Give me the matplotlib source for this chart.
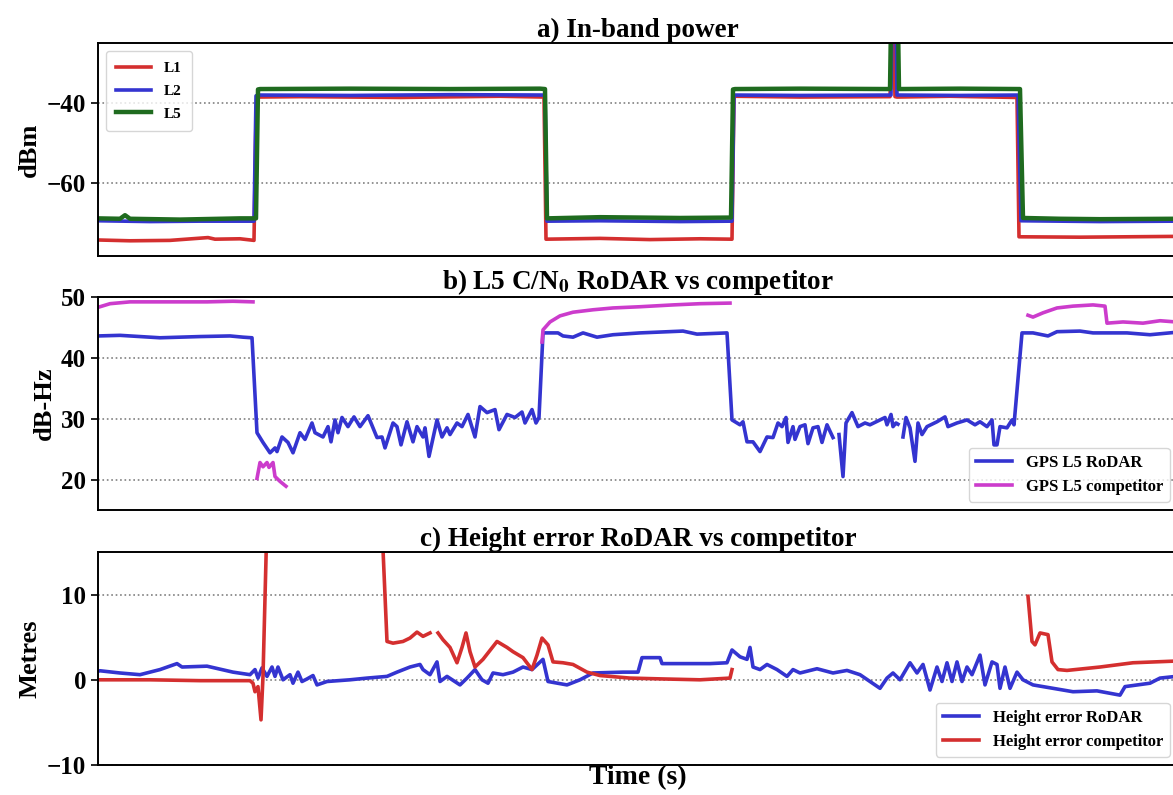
import numpy as np
import matplotlib
matplotlib.use("Agg")
import matplotlib.pyplot as plt

plt.rcParams['font.family'] = ['Liberation Serif', 'DejaVu Serif']
plt.rcParams['font.weight'] = 'bold'
plt.rcParams['mathtext.fontset'] = 'stix'

nan = np.nan

# a) in-band power (dBm)
l1_t = [98, 130, 170, 208, 215, 240, 254, 256, 258, 300, 400, 500, 544, 546, 600, 650, 700, 732,
        734, 735, 800, 890, 893, 895, 897, 950, 1017, 1019, 1080, 1176]
l1_v = [-74.2, -74.4, -74.3, -73.6, -74.0, -73.9, -74.3, -43.5, -38.5, -38.4, -38.6, -38.3, -38.5,
        -74.0, -73.8, -74.1, -73.9, -74.0, -38.5, -38.3, -38.5, -38.4, -20, -38.4, -38.5, -38.3,
        -38.6, -73.4, -73.5, -73.3]
l2_t = [98, 150, 200, 254, 256, 258, 350, 450, 545, 547, 600, 680, 732, 734, 800, 891, 892, 896,
        897, 960, 1018, 1021, 1100, 1176]
l2_v = [-69.4, -69.6, -69.5, -69.5, -38.2, -38.0, -38.1, -37.9, -38.0, -69.5, -69.4, -69.6, -69.5,
        -38.0, -38.1, -38.0, -20, -20, -38.0, -38.1, -38.0, -69.4, -69.6, -69.5]
l5_t = [98, 120, 125, 130, 180, 240, 256, 258, 260, 350, 450, 540, 545, 547, 600, 680, 731, 733,
        735, 800, 890, 891, 898, 899, 960, 1020, 1023, 1060, 1100, 1176]
l5_v = [-68.8, -68.9, -68.0, -68.9, -69.1, -68.8, -68.8, -36.6, -36.5, -36.4, -36.5, -36.4, -36.5,
        -68.8, -68.5, -68.7, -68.6, -36.6, -36.5, -36.4, -36.5, -20, -20, -36.5, -36.4, -36.5,
        -68.7, -68.9, -69.0, -68.9]

# b) L5 C/N0 (dB-Hz)
rodar_cn_t = [98, 120, 160, 200, 230, 243, 252, 257, 263, 270, 275, 277, 282, 288, 293, 300, 305,
              312, 315, 323, 328, 331, 335, 338, 342, 348, 354, 360, 368, 377, 382, 385, 393, 397,
              401, 407, 413, 417, 423, 425, 429, 437, 442, 447, 450, 457, 462, 468, 475, 480, 487,
              495, 499, 507, 515, 522, 525, 532, 536, 539, 543, 558, 563, 573, 583, 597, 613, 640,
              683, 697, 727, 732, 740, 743, 747, 753, 760, 767, 773, 778, 782, 786, 788, 793, 795,
              800, 805, 808, 813, 818, 822, 827, 833, 836, 839, 843, 846, 852, 858, 865, 870, 880,
              885, 887, 891, 893, 896, 898, 900, 903, 906, 910, 915, 918, 922, 927, 937, 945, 948,
              957, 967, 975, 980, 987, 992, 994, 997, 1000, 1007, 1012, 1014, 1022, 1033, 1048,
              1057, 1080, 1093, 1127, 1150, 1176]
rodar_cn_v = [43.6, 43.7, 43.3, 43.5, 43.6, 43.4, 43.3, 27.7, 26.1, 24.4, 25.2, 24.6, 27.0, 26.1,
              24.4, 27.7, 26.6, 29.3, 27.7, 27.0, 28.7, 26.2, 29.8, 27.7, 30.2, 28.7, 30.3, 28.7,
              30.5, 26.9, 27.0, 25.2, 29.3, 28.7, 25.7, 29.5, 26.2, 28.7, 27.0, 28.5, 23.8, 29.8,
              27.0, 28.5, 27.4, 29.3, 28.7, 30.7, 27.0, 32.0, 31.0, 31.5, 28.2, 30.7, 30.2, 31.1,
              29.3, 31.5, 29.3, 30.2, 44.1, 44.1, 43.6, 43.4, 44.1, 43.4, 43.8, 44.1, 44.4, 43.9,
              44.1, 29.8, 29.0, 29.5, 26.2, 26.2, 24.6, 27.0, 26.9, 29.3, 28.7, 30.2, 26.1, 28.7,
              26.6, 28.7, 29.0, 25.9, 28.5, 28.7, 26.1, 29.0, 26.9, nan, 27.4, 20.5, 29.3, 31.0,
              28.7, 29.3, 29.0, 29.8, 30.2, 29.0, 30.7, 28.7, 29.3, 29.1, nan, 27.0, 30.2, 28.5,
              23.0, 29.3, 27.4, 28.7, 29.5, 30.3, 28.7, 29.3, 29.8, 29.0, 29.5, 28.7, 29.8, 25.7,
              25.7, 28.7, 28.5, 29.8, 29.0, 44.1, 44.1, 43.6, 44.3, 44.4, 44.1, 44.1, 43.8, 44.2]
comp_cn_t = [98, 100, 110, 130, 167, 207, 233, 253, 255, 257, 260, 263, 267, 269, 273, 275, 280,
             286, 400, 542, 543, 550, 560, 573, 593, 613, 640, 673, 700, 730, 900, 1028, 1033,
             1043, 1057, 1073, 1093, 1105, 1107, 1123, 1143, 1160, 1176]
comp_cn_v = [48.3, 48.4, 48.9, 49.2, 49.2, 49.2, 49.3, 49.2, nan, 20.2, 22.8, 22.1, 22.8, 22.0,
             22.8, 20.5, 19.7, 18.9, nan, 42.6, 44.6, 45.9, 46.9, 47.5, 47.9, 48.2, 48.4, 48.7,
             48.9, 49.0, nan, 47.0, 46.7, 47.4, 48.2, 48.5, 48.7, 48.5, 45.7, 45.9, 45.7, 46.1,
             45.9]

# c) height error (m)
rodar_h_t = [98, 100, 120, 140, 160, 177, 182, 207, 233, 250, 255, 258, 262, 267, 272, 275, 278,
             283, 290, 293, 298, 302, 307, 313, 317, 327, 350, 367, 387, 397, 410, 420, 423, 430,
             437, 440, 447, 460, 467, 475, 482, 488, 493, 503, 513, 523, 532, 543, 548, 567, 580,
             593, 623, 638, 642, 660, 662, 710, 727, 732, 740, 747, 750, 753, 760, 767, 777, 787,
             793, 800, 817, 833, 847, 860, 870, 880, 887, 893, 900, 910, 917, 923, 930, 937, 942,
             947, 952, 957, 962, 967, 972, 980, 985, 992, 997, 1000, 1005, 1010, 1017, 1023, 1033,
             1053, 1073, 1097, 1120, 1125, 1150, 1160, 1176]
rodar_h_v = [1.0, 1.06, 0.8, 0.6, 1.2, 1.9, 1.5, 1.6, 0.9, 0.6, 1.2, 0.2, 1.4, 0.4, 1.5, 0.4, 1.5,
             0.0, 0.6, -0.4, 0.9, -0.2, 0.1, 0.5, -0.6, -0.2, 0.0, 0.2, 0.4, 0.9, 1.5, 1.8, 1.2,
             0.6, 2.1, -0.2, 0.4, -0.6, 0.2, 1.2, 0.0, -0.4, 0.8, 0.6, 0.9, 1.5, 1.2, 2.4, -0.2,
             -0.6, 0.0, 0.8, 0.9, 0.9, 2.6, 2.6, 1.9, 1.9, 2.0, 3.5, 2.7, 2.4, 3.8, 1.5, 1.2, 1.8,
             1.2, 0.4, 1.2, 0.8, 1.3, 0.8, 1.1, 0.6, -0.2, -1.0, 0.2, 0.8, 0.0, 2.0, 0.8, 1.8,
             -1.2, 1.5, -0.2, 2.0, -0.2, 2.1, -0.2, 1.5, 0.6, 2.9, -0.6, 2.1, 1.8, -1.0, 1.5, -1.0,
             0.9, 0.0, -0.6, -1.0, -1.4, -1.3, -1.8, -0.8, -0.4, 0.2, 0.4]
comp_h_t = [98, 150, 200, 250, 253, 255, 258, 261, 263, 267, 300, 382, 387, 393, 403, 410, 417,
            423, 430, 433, 438, 443, 450, 457, 462, 466, 470, 475, 483, 497, 507, 513, 523, 532,
            537, 542, 548, 553, 563, 573, 587, 600, 630, 663, 700, 730, 732, 900, 1028, 1032,
            1035, 1040, 1048, 1052, 1058, 1067, 1100, 1133, 1176]
comp_h_v = [0.0, 0.0, -0.1, -0.1, -0.4, -1.4, -0.8, -4.7, 0.4, 18.8, nan, 18.0, 4.5, 4.3, 4.5,
            4.9, 5.6, 5.1, 5.5, nan, 5.5, 4.7, 3.8, 2.0, 3.8, 5.5, 3.3, 1.5, 2.4, 4.5, 3.8, 3.3,
            2.6, 1.2, 2.9, 4.9, 4.1, 2.1, 2.0, 1.8, 0.9, 0.5, 0.2, 0.1, 0.0, 0.2, 1.2, nan, 9.8,
            4.5, 4.1, 5.5, 5.3, 2.1, 1.2, 1.1, 1.5, 2.0, 2.2]

RED = '#d42f2f'
BLUE = '#3434d0'
GREEN = '#1f6b1f'
MAGENTA = '#cc3ccc'
LW = 2.6

fig = plt.figure(figsize=(11.73, 7.95), dpi=100)
left, width = 98 / 1173, 1080 / 1173
ax1 = fig.add_axes([left, 1 - 256 / 795, width, 213 / 795])
ax2 = fig.add_axes([left, 1 - 510 / 795, width, 213 / 795])
ax3 = fig.add_axes([left, 1 - 765 / 795, width, 213 / 795])

ax1.plot(l1_t, l1_v, color=RED, lw=LW, label='L1')
ax1.plot(l2_t, l2_v, color=BLUE, lw=LW, label='L2')
ax1.plot(l5_t, l5_v, color=GREEN, lw=LW + 0.6, label='L5')
ax1.set_ylim(-78.2, -25)
ax1.set_yticks([-60, -40])
ax1.set_ylabel('dBm', fontsize=19, fontweight='bold')
ax1.set_title('a) In-band power', fontsize=19.5, fontweight='bold', pad=3)
ax1.legend(loc='upper left', fontsize=11, handlelength=2.3, borderpad=0.7, labelspacing=0.6)

ax2.plot(rodar_cn_t, rodar_cn_v, color=BLUE, lw=LW, label='GPS L5 RoDAR')
ax2.plot(comp_cn_t, comp_cn_v, color=MAGENTA, lw=LW, label='GPS L5 competitor')
ax2.set_ylim(15, 50)
ax2.set_yticks([20, 30, 40, 50])
ax2.set_ylabel('dB-Hz', fontsize=19, fontweight='bold')
ax2.set_title(r'b) L5 C/N$_0$ RoDAR vs competitor', fontsize=19.5, fontweight='bold', pad=3)
ax2.legend(loc='lower right', fontsize=12, handlelength=2.2)

ax3.plot(rodar_h_t, rodar_h_v, color=BLUE, lw=LW, label='Height error RoDAR')
ax3.plot(comp_h_t, comp_h_v, color=RED, lw=LW, label='Height error competitor')
ax3.set_ylim(-10, 15)
ax3.set_yticks([-10, 0, 10])
ax3.set_ylabel('Metres', fontsize=19, fontweight='bold')
ax3.set_title('c) Height error RoDAR vs competitor', fontsize=19.5, fontweight='bold', pad=3)
ax3.set_xlabel('Time (s)', fontsize=20, fontweight='bold', labelpad=0)
ax3.legend(loc='lower right', fontsize=12, handlelength=2.2)

for ax in (ax1, ax2, ax3):
    ax.set_xlim(98, 1178)
    ax.set_xticks([])
    ax.grid(axis='y', linestyle=':', color='gray', lw=1.2)
    ax.tick_params(axis='y', labelsize=18, width=1.2, length=5)
    for s in ax.spines.values():
        s.set_linewidth(1.4)

fig.savefig('out.png', dpi=100)
